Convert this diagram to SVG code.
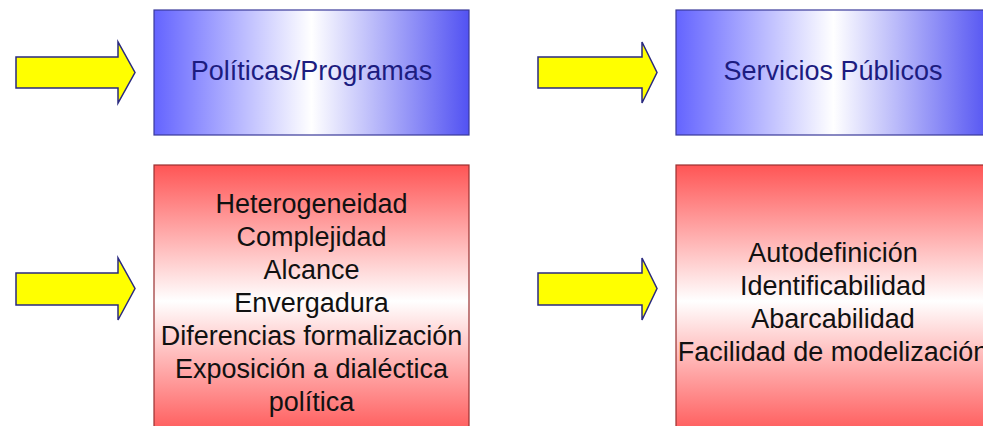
<svg xmlns="http://www.w3.org/2000/svg" width="983" height="426" viewBox="0 0 983 426">
<style>
.blue{stroke:#3a3a9a;stroke-width:1.2}
.red{stroke:#9a3030;stroke-width:1.2}
.arr{fill:#ffff00;stroke:#2a2a80;stroke-width:1.5;stroke-linejoin:miter}
.t{font-family:"Liberation Sans",Arial,sans-serif;font-size:27px;text-anchor:middle}
.tb{fill:#1c1c80}
.tr{fill:#111111}
</style>
<defs>
<linearGradient id="gb" x1="0" y1="0" x2="1" y2="0">
<stop offset="0" stop-color="#6464ff"/>
<stop offset="0.5" stop-color="#ffffff"/>
<stop offset="1" stop-color="#5252f2"/>
</linearGradient>
<linearGradient id="gr" x1="0" y1="0" x2="0" y2="1">
<stop offset="0" stop-color="#ff5555"/>
<stop offset="0.5" stop-color="#ffffff"/>
<stop offset="1" stop-color="#ff5555"/>
</linearGradient>
</defs>
<rect width="983" height="426" fill="#ffffff"/>
<g id="connectors">
<polygon class="arr" points="16,57 118,57 118,42 135,72.5 118,103 118,88 16,88"/>
<polygon class="arr" points="538,57 642,57 642,42 657,72.5 642,103 642,88 538,88"/>
<polygon class="arr" points="16,273 118,273 118,258 135,288.5 118,320 118,305 16,305"/>
<polygon class="arr" points="538,273 642,273 642,258 657,288.5 642,320 642,305 538,305"/>
</g>
<g id="politicas">
<rect class="blue" x="154" y="10" width="315" height="125" fill="url(#gb)"/>
<text class="t tb" x="311.5" y="80">Políticas/Programas</text>
</g>
<g id="servicios">
<rect class="blue" x="676" y="10" width="315" height="125" fill="url(#gb)"/>
<text class="t tb" x="833" y="80">Servicios Públicos</text>
</g>
<g id="caracteristicas-politicas">
<rect class="red" x="154" y="165" width="315" height="272" fill="url(#gr)"/>
<text class="t tr" x="311.5" y="213">Heterogeneidad</text>
<text class="t tr" x="311.5" y="246">Complejidad</text>
<text class="t tr" x="311.5" y="279">Alcance</text>
<text class="t tr" x="311.5" y="312">Envergadura</text>
<text class="t tr" x="311.5" y="345">Diferencias formalización</text>
<text class="t tr" x="311.5" y="378">Exposición a dialéctica</text>
<text class="t tr" x="311.5" y="411">política</text>
</g>
<g id="caracteristicas-servicios">
<rect class="red" x="676" y="165" width="315" height="272" fill="url(#gr)"/>
<text class="t tr" x="833" y="262">Autodefinición</text>
<text class="t tr" x="833" y="295">Identificabilidad</text>
<text class="t tr" x="833" y="328">Abarcabilidad</text>
<text class="t tr" x="833" y="361">Facilidad de modelización</text>
</g>
</svg>
